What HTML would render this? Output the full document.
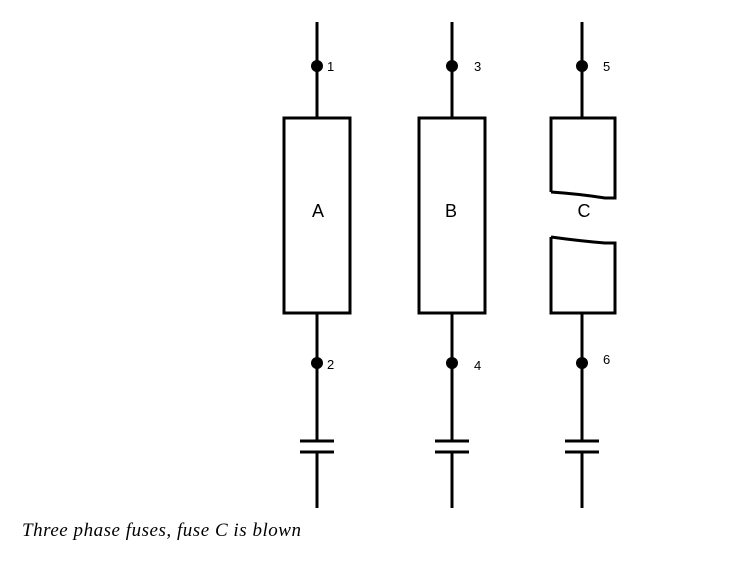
<!DOCTYPE html>
<html><head><style>
html,body{margin:0;padding:0;background:#fff;width:737px;height:565px;overflow:hidden}
svg{display:block}
</style></head><body>
<svg width="737" height="565" viewBox="0 0 737 565" xmlns="http://www.w3.org/2000/svg">
<g stroke="#000" stroke-width="3" fill="none">
<!-- A -->
<line x1="317" y1="22" x2="317" y2="118"/>
<rect x="284" y="118" width="66" height="195"/>
<line x1="317" y1="313" x2="317" y2="441"/>
<line x1="300" y1="441" x2="334" y2="441"/>
<line x1="300" y1="452" x2="334" y2="452"/>
<line x1="317" y1="452" x2="317" y2="508"/>
<!-- B -->
<line x1="452" y1="22" x2="452" y2="118"/>
<rect x="419" y="118" width="66" height="195"/>
<line x1="452" y1="313" x2="452" y2="441"/>
<line x1="435" y1="441" x2="469" y2="441"/>
<line x1="435" y1="452" x2="469" y2="452"/>
<line x1="452" y1="452" x2="452" y2="508"/>
<!-- C -->
<line x1="582" y1="22" x2="582" y2="118"/>
<path d="M551 192 L551 118 L615 118 L615 198 L605 198 Q580 194 551 192"/>
<path d="M551 237 L551 313 L615 313 L615 243 L605 243 Q580 241 551 237"/>
<line x1="582" y1="313" x2="582" y2="441"/>
<line x1="565" y1="441" x2="599" y2="441"/>
<line x1="565" y1="452" x2="599" y2="452"/>
<line x1="582" y1="452" x2="582" y2="508"/>
</g>
<g fill="#000">
<circle cx="317" cy="66" r="6"/><circle cx="452" cy="66" r="6"/><circle cx="582" cy="66" r="6"/>
<circle cx="317" cy="363" r="6"/><circle cx="452" cy="363" r="6"/><circle cx="582" cy="363" r="6"/>
</g>
<g font-family="Liberation Sans, sans-serif" font-size="13" fill="#000">
<text x="327" y="71">1</text><text x="474" y="71">3</text><text x="603" y="71">5</text>
<text x="327" y="369">2</text><text x="474" y="370">4</text><text x="603" y="364">6</text>
</g>
<g font-family="Liberation Sans, sans-serif" font-size="18" fill="#000" text-anchor="middle">
<text x="318" y="217">A</text><text x="451" y="217">B</text><text x="584" y="217">C</text>
</g>
<text x="22" y="536" font-family="Liberation Serif, serif" font-style="italic" font-size="19" textLength="279" lengthAdjust="spacing" fill="#000">Three phase fuses, fuse C is blown</text>
</svg>
</body></html>
